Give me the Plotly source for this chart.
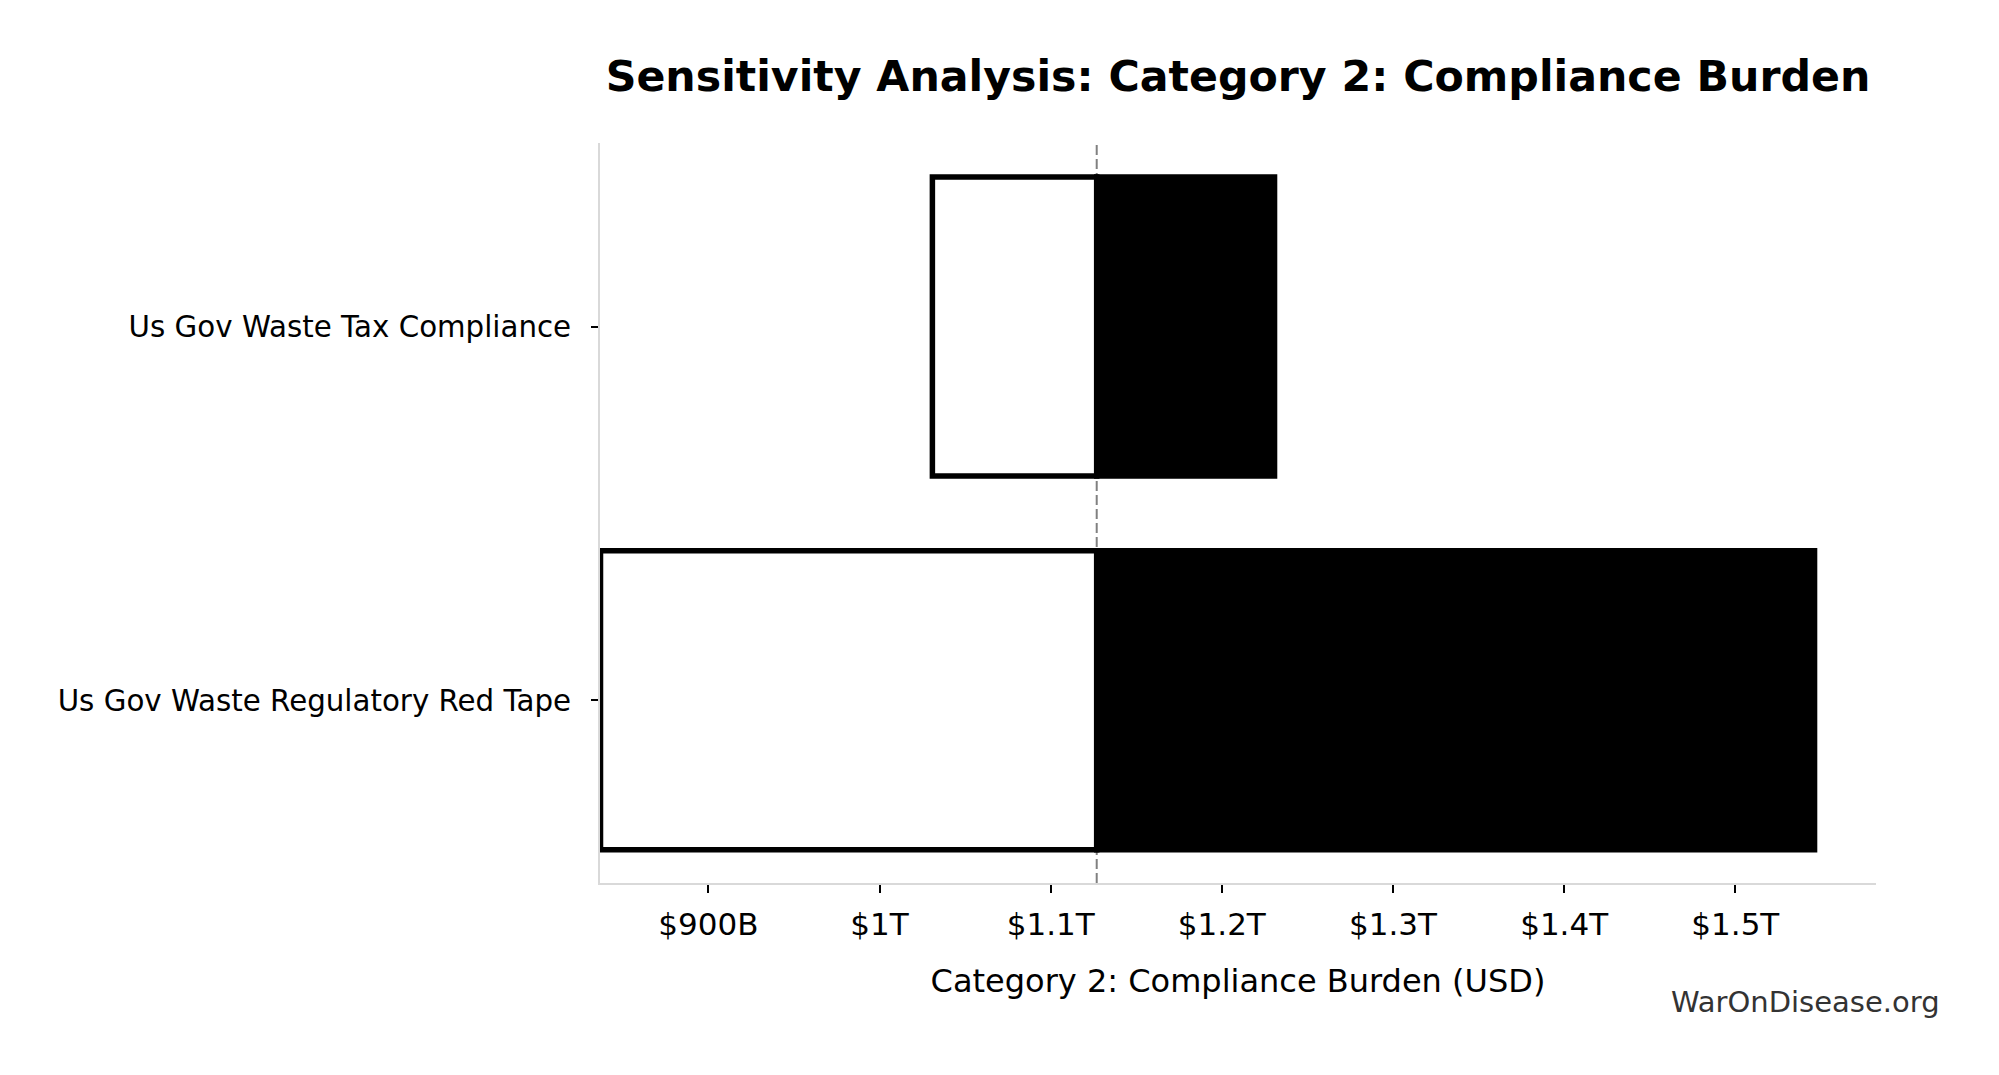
import plotly.graph_objects as go

# ---- data ----
categories = ["Us Gov Waste Regulatory Red Tape", "Us Gov Waste Tax Compliance"]
low_values = [837e9, 1030.9e9]
high_values = [1546.3e9, 1230.8e9]
baseline_value = 1126.9e9
x_tick_values = [900e9, 1000e9, 1100e9, 1200e9, 1300e9, 1400e9, 1500e9]
x_tick_labels = ["$900B", "$1T", "$1.1T", "$1.2T", "$1.3T", "$1.4T", "$1.5T"]

title_text = "Sensitivity Analysis: Category 2: Compliance Burden"
x_title_text = "Category 2: Compliance Burden (USD)"
watermark_text = "WarOnDisease.org"

FONT = "DejaVu Sans"
positions = list(range(len(categories)))

# page body adds an 8px margin; size the figure to fit inside the window
W, H = 1983, 1059
OFF = 8
plot_left, plot_top, plot_right, plot_bottom = 600, 143.3, 1875.7, 882.7

fig = go.Figure()

# low side (white with black edge)
fig.add_trace(go.Bar(
    y=positions,
    base=low_values,
    x=[baseline_value - v for v in low_values],
    orientation="h",
    width=0.8,
    marker=dict(color="white", line=dict(color="black", width=5.5)),
    showlegend=False,
    hoverinfo="skip",
))
# high side (black)
fig.add_trace(go.Bar(
    y=positions,
    base=[baseline_value] * len(high_values),
    x=[v - baseline_value for v in high_values],
    orientation="h",
    width=0.8,
    marker=dict(color="black", line=dict(color="black", width=5.5)),
    showlegend=False,
    hoverinfo="skip",
))

fig.add_shape(
    type="line", xref="x", yref="paper",
    x0=baseline_value, x1=baseline_value, y0=0, y1=1,
    line=dict(color="gray", width=2, dash="10px,4px"),
    layer="below",
)

pw = plot_right - plot_left
ph = plot_bottom - plot_top

fig.update_layout(
    width=W, height=H,
    margin=dict(l=plot_left - OFF, r=W + OFF - plot_right,
                t=plot_top - OFF, b=H + OFF - plot_bottom, autoexpand=False),
    barmode="overlay",
    plot_bgcolor="white", paper_bgcolor="white",
    font=dict(family=FONT, color="black"),
    title=dict(
        text=title_text,
        font=dict(family=FONT, size=42.7, color="black", weight="bold"),
        x=0.5, xref="paper", xanchor="center",
        y=1 - (76.5 - OFF) / H, yref="container", yanchor="middle",
    ),
    xaxis=dict(
        range=[836.7e9, 1582.2e9],
        tickvals=x_tick_values, ticktext=x_tick_labels,
        ticks="outside", ticklen=8, tickwidth=2, tickcolor="black",
        tickfont=dict(family=FONT, size=31, color="black"),
        showline=True, linecolor="#d9d9d9", linewidth=2,
        showgrid=False, zeroline=False,
        ticklabelstandoff=5,
        title=dict(text=x_title_text, font=dict(family=FONT, size=32, color="black"), standoff=28),
    ),
    yaxis=dict(
        range=[-0.489, 1.491],
        tickvals=positions, ticktext=categories,
        ticks="outside", ticklen=7, tickwidth=2, tickcolor="black",
        tickfont=dict(family=FONT, size=29.3, color="black"),
        showline=True, linecolor="#d9d9d9", linewidth=2,
        showgrid=False, zeroline=False,
        ticklabelstandoff=14,
    ),
    annotations=[dict(
        text=watermark_text, xref="paper", yref="paper",
        x=(1942 - plot_left) / pw, y=(plot_bottom - 1002) / ph,
        xanchor="right", yanchor="middle", showarrow=False,
        font=dict(family=FONT, size=29, color="#333333"),
    )],
)

fig.write_html("out.html", config={"displayModeBar": False})
